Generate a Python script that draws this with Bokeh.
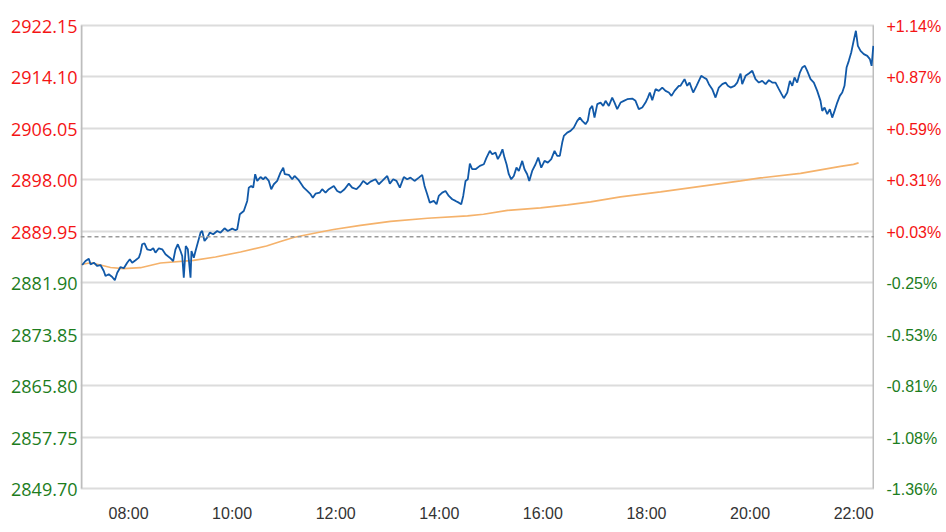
from bokeh.plotting import figure
from bokeh.layouts import row
from bokeh.models import Range1d, FixedTicker, Span, ColumnDataSource
from bokeh.core.properties import value
from bokeh.embed import file_html
from bokeh.resources import INLINE

# ---- data (time in minutes after midnight, price index) ----
base_price = 2889.09
y_ticks = [2922.15, 2914.10, 2906.05, 2898.00, 2889.95, 2881.90, 2873.85, 2865.80, 2857.75, 2849.70]
x_ticks = [480, 600, 720, 840, 960, 1080, 1200, 1320]
x_tick_labels = ["08:00", "10:00", "12:00", "14:00", "16:00", "18:00", "20:00", "22:00"]
x_start, x_end = 425.5, 1343.0

price_time = [
    426.3, 430.1, 434.0, 435.9, 439.8, 443.7, 447.5, 451.3, 453.3, 457.1,
    461.1, 464.1, 466.9, 470.7, 474.5, 478.4, 481.5, 484.2, 488.1, 491.9,
    493.9, 495.8, 498.5, 501.6, 505.4, 508.6, 511.2, 515.1, 519.0, 522.8,
    527.8, 531.7, 534.4, 537.1, 540.2, 542.2, 544.0, 546.3, 548.7, 551.8,
    552.9, 555.6, 557.6, 560.2, 563.4, 565.3, 568.0, 571.1, 574.1, 578.1,
    582.7, 586.5, 591.2, 595.0, 600.1, 603.9, 605.9, 608.9, 613.5, 617.5,
    619.3, 622.1, 624.4, 626.7, 629.1, 632.9, 636.0, 638.7, 642.5, 645.3,
    648.3, 652.2, 656.0, 659.2, 661.0, 665.7, 669.6, 672.3, 677.2, 683.0,
    687.0, 690.8, 693.5, 696.6, 701.6, 704.3, 708.2, 712.0, 717.8, 721.7,
    725.5, 730.2, 735.2, 739.1, 744.1, 747.9, 751.8, 756.5, 760.3, 766.1,
    769.9, 773.9, 779.7, 782.7, 786.6, 790.4, 794.3, 798.9, 802.8, 806.6,
    811.3, 816.3, 820.2, 822.9, 826.0, 829.0, 833.6, 836.8, 839.4, 843.4,
    847.2, 851.0, 855.0, 858.8, 862.6, 865.4, 867.7, 870.4, 873.0, 875.4,
    878.1, 882.0, 887.0, 891.6, 894.7, 898.5, 901.3, 905.1, 907.8, 910.9,
    913.2, 915.5, 917.9, 920.5, 923.3, 926.3, 929.4, 932.1, 936.1, 938.7,
    941.8, 944.2, 947.6, 951.5, 954.6, 958.1, 961.9, 965.7, 969.7, 973.5,
    976.6, 979.6, 982.4, 984.3, 988.2, 992.0, 995.8, 999.8, 1002.8, 1005.6,
    1009.4, 1012.0, 1014.4, 1017.2, 1019.8, 1023.0, 1026.8, 1029.9, 1032.6, 1036.4,
    1040.3, 1043.0, 1046.1, 1050.0, 1053.8, 1057.7, 1063.5, 1067.3, 1071.1, 1075.1,
    1078.9, 1081.6, 1083.9, 1086.7, 1090.5, 1094.3, 1098.3, 1102.1, 1105.9, 1109.0,
    1112.5, 1117.5, 1119.4, 1124.1, 1127.2, 1129.9, 1134.1, 1138.0, 1143.4, 1146.4,
    1149.6, 1152.3, 1156.2, 1160.0, 1163.8, 1167.8, 1171.6, 1174.3, 1177.4, 1182.0,
    1185.1, 1189.0, 1190.9, 1194.8, 1198.6, 1202.6, 1206.3, 1210.2, 1214.1, 1218.0,
    1221.8, 1225.7, 1229.5, 1233.4, 1236.5, 1239.1, 1243.1, 1246.1, 1248.9, 1251.5,
    1254.6, 1257.7, 1260.4, 1263.5, 1266.2, 1270.1, 1273.9, 1277.8, 1281.6, 1283.6,
    1286.3, 1289.4, 1292.4, 1295.2, 1297.9, 1301.0, 1304.0, 1306.8, 1309.4, 1311.8,
    1314.4, 1317.2, 1319.6, 1322.6, 1324.9, 1328.0, 1331.8, 1335.8, 1338.8, 1340.8,
    1342.8,
]
price_value = [
    2884.67, 2885.30, 2885.66, 2884.78, 2885.03, 2884.52, 2884.67, 2883.73, 2882.95, 2883.22,
    2882.79, 2882.28, 2883.47, 2884.36, 2884.16, 2885.03, 2885.57, 2885.03, 2885.41, 2885.82,
    2886.60, 2887.92, 2888.07, 2887.13, 2886.98, 2887.29, 2886.60, 2887.29, 2887.13, 2886.35,
    2885.82, 2885.30, 2887.13, 2887.92, 2886.87, 2886.08, 2882.68, 2887.65, 2887.13, 2882.68,
    2886.87, 2885.82, 2886.87, 2888.17, 2889.73, 2890.00, 2888.43, 2888.95, 2889.73, 2889.48,
    2890.00, 2889.73, 2890.42, 2890.00, 2890.36, 2890.11, 2890.26, 2892.61, 2893.13, 2894.70,
    2896.78, 2897.05, 2896.78, 2898.88, 2897.83, 2898.45, 2898.09, 2898.45, 2897.83, 2896.53,
    2897.31, 2897.83, 2899.13, 2899.91, 2898.88, 2898.77, 2898.09, 2898.61, 2897.94, 2896.78,
    2896.26, 2895.75, 2895.21, 2895.84, 2896.00, 2896.53, 2896.00, 2896.53, 2897.05, 2896.26,
    2896.00, 2896.53, 2897.41, 2896.78, 2896.53, 2897.05, 2897.83, 2897.31, 2897.72, 2898.09,
    2897.31, 2897.83, 2898.61, 2897.41, 2898.09, 2897.83, 2896.78, 2898.45, 2898.09, 2898.35,
    2897.83, 2898.35, 2898.77, 2897.05, 2895.75, 2894.43, 2894.70, 2894.18, 2895.48, 2896.00,
    2896.26, 2895.48, 2894.96, 2894.70, 2894.43, 2894.18, 2895.48, 2897.83, 2898.09, 2900.54,
    2899.66, 2899.66, 2900.18, 2900.44, 2901.48, 2902.53, 2902.01, 2902.26, 2901.23, 2902.01,
    2902.79, 2901.48, 2900.44, 2898.88, 2898.09, 2898.61, 2899.91, 2899.39, 2900.96, 2899.66,
    2898.88, 2897.83, 2899.39, 2900.44, 2901.48, 2899.91, 2900.96, 2900.69, 2901.23, 2902.53,
    2901.74, 2901.74, 2903.83, 2904.88, 2905.39, 2905.66, 2906.18, 2907.23, 2907.74, 2907.23,
    2906.71, 2907.23, 2909.06, 2909.57, 2907.74, 2909.84, 2910.09, 2909.57, 2910.36, 2909.57,
    2910.87, 2910.09, 2909.06, 2910.09, 2910.36, 2910.62, 2910.72, 2910.36, 2909.06, 2909.31,
    2910.09, 2910.87, 2911.66, 2910.47, 2912.19, 2911.92, 2912.44, 2911.92, 2911.66, 2911.14,
    2911.92, 2912.71, 2912.71, 2913.76, 2912.71, 2913.22, 2911.66, 2912.71, 2914.27, 2914.01,
    2913.76, 2912.97, 2912.19, 2910.87, 2912.44, 2912.97, 2913.22, 2912.71, 2912.44, 2912.71,
    2913.22, 2914.63, 2912.97, 2914.27, 2914.63, 2915.06, 2913.76, 2913.22, 2913.49, 2912.97,
    2913.60, 2913.22, 2913.22, 2912.19, 2911.41, 2910.78, 2911.66, 2913.49, 2912.71, 2914.01,
    2913.22, 2914.79, 2915.57, 2915.84, 2915.06, 2913.76, 2913.22, 2911.92, 2910.36, 2908.79,
    2909.31, 2908.27, 2909.06, 2907.74, 2908.79, 2910.09, 2911.14, 2911.66, 2912.71, 2915.57,
    2916.62, 2917.92, 2919.49, 2921.32, 2918.97, 2918.19, 2917.67, 2917.40, 2916.89, 2915.84,
    2918.97,
]

avg_time = [425.5, 435.9, 447.5, 459.1, 474.2, 493.9, 517.0, 555.3, 580.7, 609.7,
            639.8, 656.0, 671.1, 679.2, 702.4, 717.4, 748.7, 783.5, 826.3, 872.7,
            891.2, 919.0, 957.3, 988.5, 1015.2, 1049.9, 1096.3, 1142.6, 1189.0, 1212.1,
            1258.5, 1304.8, 1319.9, 1325.7]
avg_value = [2884.75, 2885.03, 2884.67, 2884.28, 2884.12, 2884.25, 2884.99, 2885.41, 2885.93, 2886.71,
             2887.65, 2888.35, 2888.98, 2889.21, 2889.84, 2890.23, 2890.86, 2891.49, 2891.99, 2892.35,
             2892.61, 2893.21, 2893.60, 2894.07, 2894.54, 2895.32, 2896.11, 2896.97, 2897.83, 2898.30,
             2899.00, 2900.10, 2900.41, 2900.65]

RED = "#f41414"
GREEN = "#1d7d1d"

# ---- layout geometry (pixels) ----
GRID_H, GRID_W = 463, 792          # distance between outer grid lines / between axis lines
PAD_Y, PAD_X = 14, 1
TOP = 11
FRAME_H = GRID_H + 2 * PAD_Y
BOTTOM = 530 - TOP - FRAME_H
FRAME_W = GRID_W + 2 * PAD_X
LEFT_W = 80
RIGHT_W = 946 - LEFT_W - FRAME_W

pad_y = PAD_Y * (y_ticks[0] - y_ticks[-1]) / GRID_H
pad_x = PAD_X * (x_end - x_start) / GRID_W
yr = Range1d(y_ticks[-1] - pad_y, y_ticks[0] + pad_y)

p = figure(frame_width=FRAME_W, frame_height=FRAME_H,
           min_border_left=0, min_border_right=0, min_border_top=TOP, min_border_bottom=BOTTOM,
           x_range=Range1d(x_start - pad_x, x_end + pad_x), y_range=yr, y_axis_location=None,
           output_backend="svg", toolbar_location=None)
p.outline_line_color = None

p.xgrid.visible = False
p.ygrid.ticker = FixedTicker(ticks=y_ticks)
p.ygrid.grid_line_color = "#dcdcdc"
p.ygrid.grid_line_width = 2

p.xaxis.ticker = FixedTicker(ticks=x_ticks)
p.xaxis.major_label_overrides = dict(zip(x_ticks, x_tick_labels))
p.xaxis.axis_line_color = None
p.xaxis.major_tick_line_color = None
p.xaxis.minor_tick_line_color = None
p.xaxis.major_tick_out = 0
p.xaxis.major_tick_in = 0
p.xaxis.major_label_standoff = 2
p.xaxis.major_label_text_font = "Liberation Sans"
p.xaxis.major_label_text_font_size = "16px"
p.xaxis.major_label_text_color = "#333333"

# vertical value-axis lines at both ends of the time range
p.segment(x0=[x_start, x_end], y0=[y_ticks[-1], y_ticks[-1]],
          x1=[x_start, x_end], y1=[y_ticks[0], y_ticks[0]],
          line_color="#bdbdbd", line_width=2)

p.add_layout(Span(location=base_price, dimension="width", line_color="#9a9a9a",
                  line_dash="4 3", line_width=1.3))

p.line(avg_time, avg_value, line_color="#f5b26b", line_width=1.7)
p.line(price_time, price_value, line_color="#1159a8", line_width=1.8)

# ---- coloured tick labels ----
colors = [RED if v > base_price else GREEN for v in y_ticks]
left_src = ColumnDataSource(dict(y=y_ticks, text=[f"{v:.2f}" for v in y_ticks], color=colors))
right_src = ColumnDataSource(dict(y=y_ticks,
                                  text=[f"{(v - base_price) / base_price * 100:+.2f}%" for v in y_ticks],
                                  color=colors))


def label_fig(w):
    f = figure(width=w, frame_height=FRAME_H, min_border_left=0, min_border_right=0,
               min_border_top=TOP, min_border_bottom=BOTTOM,
               x_range=Range1d(0, 1), y_range=yr,
               x_axis_location=None, y_axis_location=None, output_backend="svg", toolbar_location=None)
    f.outline_line_color = None
    f.grid.visible = False
    return f


pl = label_fig(LEFT_W)
pl.text(x=1, y="y", text="text", source=left_src, text_color="color", text_align="right",
        text_baseline="middle", x_offset=-3, y_offset=1,
        text_font=value("Open Sans"), text_font_size=value("18px"))

pr = label_fig(RIGHT_W)
pr.text(x=0, y="y", text="text", source=right_src, text_color="color", text_align="left",
        text_baseline="middle", x_offset=12, y_offset=1,
        text_font=value("Liberation Sans"), text_font_size=value("16px"))

layout = row(pl, p, pr, spacing=0)
open("out.html", "w").write(file_html(layout, INLINE))
